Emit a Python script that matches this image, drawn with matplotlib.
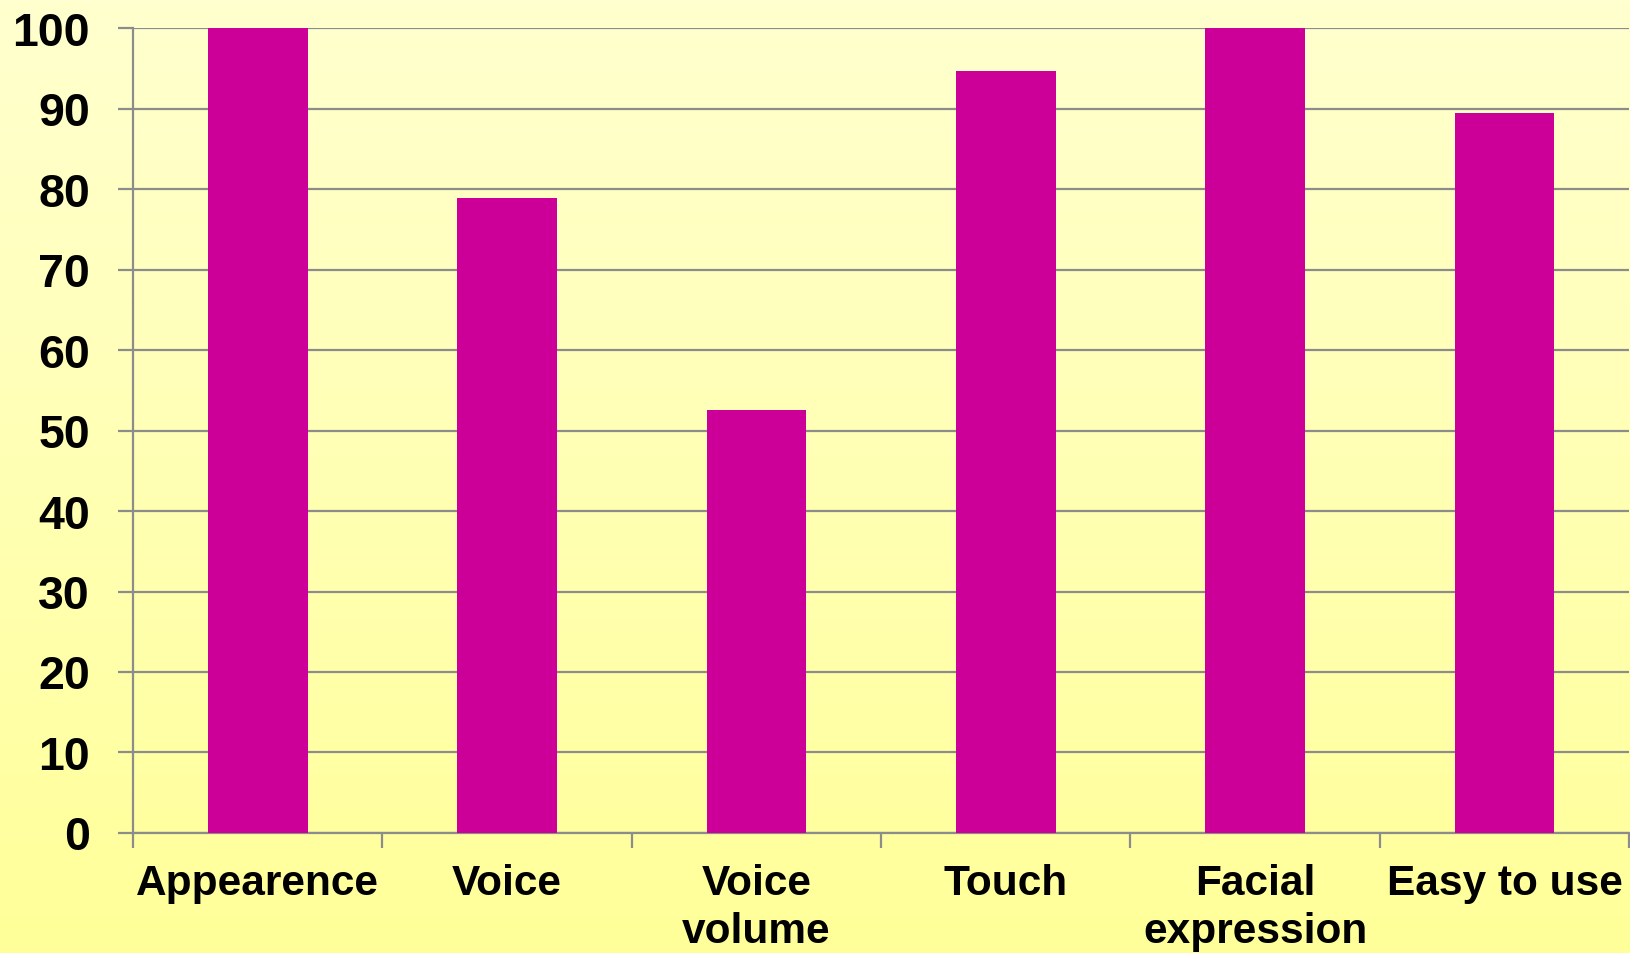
import numpy as np
import matplotlib
matplotlib.use("Agg")
import matplotlib.pyplot as plt
from matplotlib.colors import LinearSegmentedColormap

# survey results, percent of participants
categories = ["Appearence", "Voice", "Voice\nvolume", "Touch", "Facial\nexpression", "Easy to use"]
values = [100, 78.9, 52.6, 94.7, 100, 89.5]
yticks = [0, 10, 20, 30, 40, 50, 60, 70, 80, 90, 100]

plt.rcParams["font.family"] = ["Liberation Sans", "DejaVu Sans"]
plt.rcParams["font.weight"] = "bold"

fig = plt.figure(figsize=(16.3, 9.535), dpi=100)

# vertical yellow gradient behind everything
bg = fig.add_axes([0, 0, 1, 1], zorder=-10)
cmap = LinearSegmentedColormap.from_list("bg", ["#FFFFCF", "#FFFF99"])
bg.imshow(np.linspace(0, 1, 256).reshape(-1, 1), aspect="auto", cmap=cmap,
          extent=[0, 1, 0, 1])
bg.axis("off")

ax = fig.add_axes([0.0816, 0.126, 0.9179, 0.8436])
ax.set_facecolor("none")

grid_col = "#8C8C8C"
x = np.arange(len(categories))
ax.bar(x, values, width=0.4, color="#CC0099", zorder=3)

ax.set_ylim(0, 100)
ax.set_xlim(-0.5, len(categories) - 0.5)
ax.set_yticks(yticks)
ax.set_yticklabels([str(v) for v in yticks], fontsize=33.5, fontweight="bold")
ax.yaxis.grid(True, color=grid_col, linewidth=1.6, zorder=1)
ax.set_axisbelow(True)

ax.set_xticks(x)
ax.set_xticklabels(categories, fontsize=30.5, fontweight="bold", linespacing=1.25,
                   va="top")
ax.set_xticks(np.arange(-0.5, len(categories)), minor=True)
ax.tick_params(axis="x", which="major", length=0, pad=22)
ax.tick_params(axis="x", which="minor", length=11, width=1.6, color=grid_col)
ax.tick_params(axis="y", length=11, width=1.6, color=grid_col, pad=20)

for side in ["top", "right"]:
    ax.spines[side].set_visible(False)
for side in ["left", "bottom"]:
    ax.spines[side].set_color(grid_col)
    ax.spines[side].set_linewidth(1.6)

fig.savefig("out.png", dpi=100)
